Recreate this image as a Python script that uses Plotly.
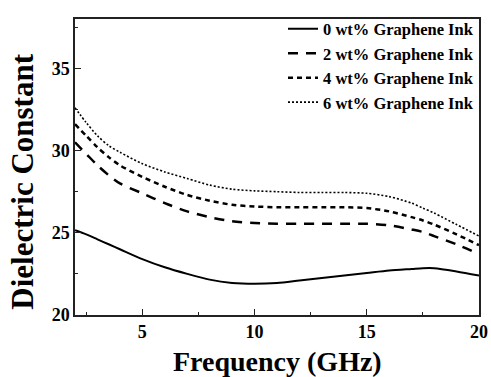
import plotly.graph_objects as go

freq = [2, 2.5, 3, 3.5, 4, 5, 6, 7, 8, 9, 10, 11, 12, 13, 14, 15, 16, 17, 17.5, 18, 19, 20]
wt0 = [25.15, 24.9, 24.6, 24.3, 24.0, 23.4, 22.9, 22.5, 22.15, 21.95, 21.9, 21.95, 22.1, 22.25, 22.4, 22.55, 22.7, 22.8, 22.85, 22.85, 22.65, 22.4]
wt2 = [30.5, 29.8, 29.1, 28.5, 28.0, 27.4, 26.8, 26.3, 25.95, 25.7, 25.6, 25.55, 25.55, 25.55, 25.55, 25.55, 25.45, 25.2, 25.05, 24.8, 24.3, 23.7]
wt4 = [31.6, 30.9, 30.2, 29.6, 29.1, 28.4, 27.8, 27.3, 26.95, 26.7, 26.6, 26.55, 26.55, 26.55, 26.55, 26.5, 26.3, 25.95, 25.75, 25.5, 24.9, 24.25]
wt6 = [32.6, 31.7, 30.9, 30.3, 29.9, 29.2, 28.7, 28.3, 27.9, 27.65, 27.55, 27.5, 27.45, 27.45, 27.45, 27.4, 27.2, 26.8, 26.5, 26.2, 25.5, 24.8]

names = ["0 wt% Graphene Ink", "2 wt% Graphene Ink", "4 wt% Graphene Ink", "6 wt% Graphene Ink"]
series = [wt0, wt2, wt4, wt6]
dashes = ["solid", "10px,8px", "5px,4px", "2px,2px"]
widths = [2, 2.5, 2.5, 1.6]

FONT = "Liberation Serif"

fig = go.Figure()
for i, (n, s) in enumerate(zip(names, series)):
    fig.add_trace(go.Scatter(
        x=freq, y=s, mode="lines", name=n, legendgroup=f"g{i}",
        line=dict(color="black", width=widths[i], dash=dashes[i], shape="spline", smoothing=0.8),
    ))

axis_common = dict(
    showline=True, linecolor="#222", linewidth=1.5, mirror=True,
    ticks="inside", ticklen=6, tickwidth=1.2, tickcolor="#222",
    showgrid=False, zeroline=False, automargin=False,
    tickfont=dict(family=FONT, size=18, color="black", weight="bold"),
)

fig.update_xaxes(range=[2, 20], tickvals=[5, 10, 15, 20],
                 minor=dict(dtick=2.5, tick0=0, ticks="inside", ticklen=3, tickcolor="#222"),
                 **axis_common)
fig.update_yaxes(range=[20, 38], tickvals=[20, 25, 30, 35],
                 minor=dict(dtick=2.5, tick0=0, ticks="inside", ticklen=3, tickcolor="#222"),
                 **axis_common)

fig.add_annotation(text="Frequency (GHz)", xref="paper", yref="paper", x=0.5, y=-0.156,
                   xanchor="center", yanchor="middle", showarrow=False,
                   font=dict(family=FONT, size=28, color="black", weight="bold"))
fig.add_annotation(text="Dielectric Constant", xref="paper", yref="paper", x=-0.129, y=0.45,
                   xanchor="center", yanchor="middle", showarrow=False, textangle=-90,
                   font=dict(family=FONT, size=31, color="black", weight="bold"))

fig.update_layout(
    width=491, height=377,
    margin=dict(l=75, r=12, t=13, b=62),
    plot_bgcolor="white", paper_bgcolor="white",
    showlegend=True,
    legend=dict(x=1.0, y=1.025, xanchor="right", yanchor="top", bgcolor="rgba(0,0,0,0)",
                tracegroupgap=0,
                font=dict(family=FONT, size=16.5, color="black", weight="bold")),
)

fig.write_html("out.html")
